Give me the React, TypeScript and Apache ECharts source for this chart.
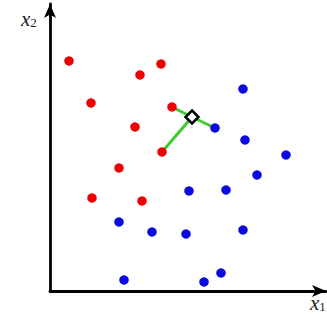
import React, { useEffect, useRef } from "react";
import * as echarts from "echarts";

const redPoints: [number, number][] = [
  [19, 230], [90, 216], [111, 227], [41, 188], [122, 184],
  [85, 164], [112, 139], [69, 123], [42, 93], [92, 90],
];
const bluePoints: [number, number][] = [
  [193, 202], [165, 163], [195, 151], [236, 136], [207, 116],
  [139, 100], [176, 101], [69, 69], [102, 59], [136, 57],
  [193, 61], [74, 11], [154, 9], [171, 18],
];
const queryPoint: [number, number] = [142, 174];
const neighbours: [number, number][] = [
  [122, 184], [165, 163], [112, 139],
];
const xMax = 276;
const yMax = 287;

export default function App() {
  const ref = useRef<HTMLDivElement>(null);
  useEffect(() => {
    if (!ref.current) return;
    const chart = echarts.init(ref.current, null, { renderer: "svg" });
    const axisCommon = {
      type: "value" as const,
      min: 0,
      axisLine: {
        show: true,
        onZero: false,
        symbol: ["none", "arrow"],
        symbolSize: [9, 14],
        lineStyle: { color: "#000", width: 2.8 },
      },
      axisTick: { show: false },
      axisLabel: { show: false },
      splitLine: { show: false },
    };
    chart.setOption({
      animation: false,
      grid: { left: 50, right: 1, top: 4, bottom: 23, containLabel: false },
      xAxis: { ...axisCommon, max: xMax },
      yAxis: { ...axisCommon, max: yMax },
      graphic: [
        {
          type: "text",
          left: 21,
          top: 8,
          style: {
            text: "{x|x}{s|2}",
            rich: {
              x: { fontFamily: "Liberation Serif", fontStyle: "italic", fontSize: 21, fill: "#222" },
              s: { fontFamily: "Liberation Serif", fontSize: 13, fill: "#222", padding: [8, 0, 0, 0] },
            },
          },
        },
        {
          type: "text",
          left: 310,
          top: 292,
          style: {
            text: "{x|x}{s|1}",
            rich: {
              x: { fontFamily: "Liberation Serif", fontStyle: "italic", fontSize: 21, fill: "#222" },
              s: { fontFamily: "Liberation Serif", fontSize: 13, fill: "#222", padding: [8, 0, 0, 0] },
            },
          },
        },
      ],
      series: [
        {
          type: "lines",
          coordinateSystem: "cartesian2d",
          z: 1,
          lineStyle: { color: "#3ccc2c", width: 3, opacity: 1 },
          data: neighbours.map((p) => ({ coords: [queryPoint, p] })),
        },
        {
          type: "scatter",
          z: 3,
          symbolSize: 9.5,
          itemStyle: { color: "#ee0000", opacity: 1 },
          data: redPoints,
        },
        {
          type: "scatter",
          z: 3,
          symbolSize: 9.5,
          itemStyle: { color: "#0a0ae0", opacity: 1 },
          data: bluePoints,
        },
        {
          type: "scatter",
          z: 4,
          symbol: "diamond",
          symbolSize: 13,
          itemStyle: { color: "#fff", borderColor: "#000", borderWidth: 2.5, opacity: 1 },
          data: [queryPoint],
        },
      ],
    });
    return () => chart.dispose();
  }, []);
  return <div ref={ref} style={{ width: 327, height: 314, position: "absolute", left: 0, top: 0 }} />;
}
